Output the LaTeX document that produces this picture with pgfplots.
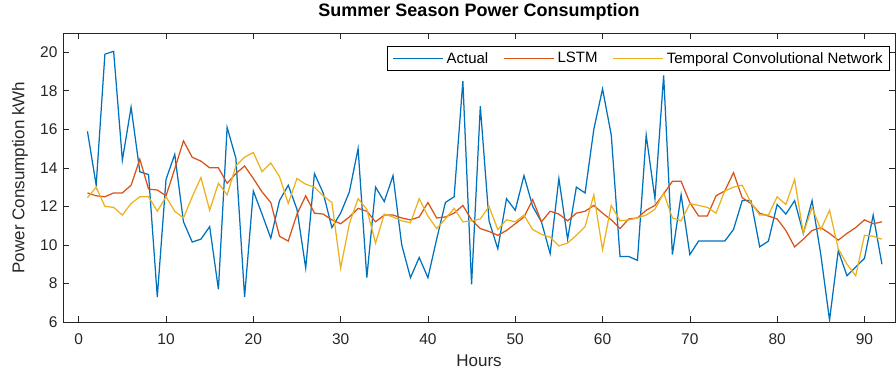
\documentclass[border=0pt]{standalone}
\usepackage{fontspec}
\setmainfont{Liberation Sans}
\usepackage{pgfplots}
\usepackage{pgfplotstable}
\pgfplotsset{compat=1.18}
\definecolor{mblue}{rgb}{0,0.447,0.741}
\definecolor{mred}{rgb}{0.850,0.325,0.098}
\definecolor{myellow}{rgb}{0.929,0.694,0.125}
\definecolor{axgray}{gray}{0.15}

\pgfplotstableread{
h actual lstm tcn
1 15.9 12.7 12.45
2 13.1 12.55 13.0
3 19.9 12.5 12.0
4 20.05 12.7 11.95
5 14.4 12.7 11.55
6 17.15 13.1 12.15
7 13.8 14.45 12.5
8 13.65 12.9 12.5
9 7.3 12.85 11.75
10 13.4 12.55 12.5
11 14.7 13.95 11.75
12 11.2 15.4 11.4
13 10.15 14.55 12.5
14 10.3 14.35 13.5
15 10.95 14.0 11.8
16 7.7 14.0 13.2
17 16.1 13.2 12.6
18 14.5 13.7 14.1
19 7.3 14.1 14.55
20 12.8 13.45 14.8
21 11.6 12.75 13.8
22 10.35 12.2 14.25
23 12.3 10.45 13.55
24 13.1 10.2 12.15
25 11.85 11.6 13.45
26 8.8 12.55 13.15
27 13.7 11.65 13.0
28 12.7 11.6 12.55
29 10.9 11.3 12.2
30 11.65 11.1 8.8
31 12.75 11.45 11.1
32 15.0 11.9 12.4
33 8.3 11.75 11.85
34 13.0 11.2 10.1
35 12.25 11.55 11.6
36 13.6 11.55 11.45
37 10.0 11.4 11.25
38 8.3 11.3 11.15
39 9.35 11.45 12.4
40 8.3 12.2 11.5
41 10.3 11.4 10.85
42 12.2 11.45 11.35
43 12.5 11.65 11.9
44 18.5 12.05 11.2
45 7.95 11.3 11.25
46 17.2 10.85 11.35
47 11.25 10.7 12.0
48 9.8 10.5 10.8
49 12.4 10.75 11.3
50 11.8 11.1 11.2
51 13.6 11.45 11.55
52 12.0 12.35 10.8
53 11.2 11.2 10.55
54 9.55 11.75 10.4
55 13.45 11.6 9.95
56 10.3 11.25 10.1
57 13.0 11.65 10.5
58 12.7 11.75 10.95
59 16.0 12.05 12.6
60 18.1 11.65 9.75
61 15.7 11.3 12.05
62 9.4 10.85 11.25
63 9.4 11.35 11.3
64 9.2 11.4 11.4
65 15.7 11.8 11.55
66 12.4 12.05 11.85
67 18.8 12.65 12.7
68 9.5 13.3 11.4
69 12.6 13.3 11.25
70 9.5 12.2 12.15
71 10.2 11.5 12.05
72 10.2 11.5 11.95
73 10.2 12.55 11.65
74 10.2 12.8 12.8
75 10.8 13.75 13.0
76 12.3 12.45 13.1
77 12.3 12.15 12.2
78 9.9 11.65 11.55
79 10.2 11.5 11.55
80 12.1 11.35 12.5
81 11.6 10.75 12.1
82 12.3 9.9 13.4
83 10.6 10.3 10.6
84 12.3 10.75 11.95
85 9.5 10.9 10.8
86 6.1 10.6 11.8
87 9.7 10.25 9.8
88 8.4 10.6 9.0
89 8.85 10.9 8.4
90 9.3 11.3 10.5
91 11.55 11.1 10.45
92 9.0 11.2 10.3
}\datatable

\begin{document}
\begin{tikzpicture}
\begin{axis}[
  at={(63pt,56pt)}, anchor=south west,
  scale only axis, width=832pt, height=289pt,
  xmin=-1.8, xmax=93.5, ymin=6, ymax=21,
  xtick={0,10,...,90}, ytick={6,8,...,20},
  tick align=inside, major tick length=6pt,
  axis line style={axgray, line width=0.6pt},
  tick style={axgray, line width=0.6pt},
  /pgf/number format/assume math mode=true,
  ticklabel style={font=\fontsize{15.5}{18}\selectfont, text=axgray},
  xticklabel style={yshift=-8.5pt},
  yticklabel style={xshift=-2pt},
  xlabel={Hours}, ylabel={Power Consumption kWh},
  label style={font=\fontsize{17}{20}\selectfont, text=axgray},
  xlabel style={at={(axis description cs:0.5,0)}, anchor=base, yshift=-44pt},
  ylabel style={at={(axis description cs:-0.0517,0.5)}, anchor=center},
  title={Summer Season Power Consumption},
  title style={font=\bfseries\fontsize{18}{21}\selectfont, at={(0.5,1)}, anchor=base, yshift=10pt},
  legend columns=-1,
  legend style={at={(0.994,0.955)}, anchor=north east, draw=black, line width=0.6pt,
    font=\fontsize{15}{17}\selectfont, inner xsep=5pt, inner ysep=4pt,
    /tikz/every odd column/.append style={column sep=1pt},
    /tikz/every even column/.append style={column sep=13pt}},
  legend image code/.code={\draw[#1] (0pt,0pt) -- (50pt,0pt);},
  every axis plot/.append style={line width=1.25pt},
]
\addplot[draw=mblue, line width=1.25pt] table[x=h, y=actual] {\datatable};
\addlegendentry{Actual}
\addplot[draw=mred, line width=1.25pt] table[x=h, y=lstm] {\datatable};
\addlegendentry{LSTM}
\addplot[draw=myellow, line width=1.25pt] table[x=h, y=tcn] {\datatable};
\addlegendentry{Temporal Convolutional Network}
\end{axis}
\pgfresetboundingbox
\path[use as bounding box] (0pt,0pt) rectangle (896pt,378pt);
\end{tikzpicture}
\end{document}
